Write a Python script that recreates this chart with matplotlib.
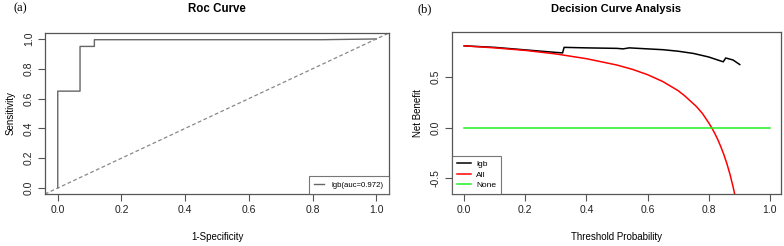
import matplotlib
matplotlib.use("Agg")
import matplotlib.pyplot as plt

plt.rcParams['font.family'] = ['Liberation Sans', 'DejaVu Sans']

# ROC curve of the lgb model (1-specificity, sensitivity)
roc_fpr = [0.0, 0.0, 0.07, 0.07, 0.115, 0.115, 0.83, 1.0]
roc_tpr = [0.0, 0.65, 0.65, 0.95, 0.95, 0.995, 0.995, 1.0]
roc_label = "lgb(auc=0.972)"

# decision curve analysis
thr_all = [0.0, 0.1, 0.2, 0.3, 0.4, 0.5, 0.55, 0.6, 0.65, 0.7, 0.72, 0.74, 0.76,
           0.78, 0.8, 0.81, 0.82, 0.83, 0.84, 0.85, 0.86, 0.87, 0.88, 0.885]
nb_all = [0.81, 0.79, 0.765, 0.73, 0.683, 0.62, 0.578, 0.525, 0.457, 0.367, 0.32,
          0.265, 0.21, 0.14, 0.05, 0.0, -0.055, -0.117, -0.188, -0.267, -0.357,
          -0.461, -0.583, -0.652]
thr_lgb = [0.0, 0.1, 0.2, 0.3, 0.322, 0.327, 0.4, 0.5, 0.52, 0.54, 0.6, 0.65,
           0.7, 0.75, 0.8, 0.848, 0.856, 0.88, 0.902]
nb_lgb = [0.81, 0.795, 0.77, 0.745, 0.74, 0.795, 0.79, 0.785, 0.78, 0.79, 0.78,
          0.772, 0.757, 0.735, 0.7, 0.652, 0.69, 0.67, 0.625]
thr_none = [0.0, 1.0]
nb_none = [0.0, 0.0]
dca_labels = ["lgb", "All", "None"]
dca_colors = ["black", "red", "#22ee22"]

W, H = 784, 246
fig = plt.figure(figsize=(W / 100, H / 100), dpi=100)

def r_style(ax):
    for s in ax.spines.values():
        s.set_color("#555555")
        s.set_linewidth(0.9)
    ax.tick_params(direction="out", length=5, width=0.8, color="#555555",
                   labelsize=7.5, labelcolor="#222222", pad=3)
    for lab in ax.get_yticklabels():
        lab.set_rotation(90)
        lab.set_va("center")

# (a) ROC
ax1 = fig.add_axes([45 / W, 52 / H, 344 / W, 161 / H])
ax1.plot(roc_fpr, roc_tpr, color="#666666", lw=1.0)
ax1.plot([-0.04, 1.04], [-0.04, 1.04], color="#888888", lw=0.9, ls=(0, (3, 2)))
ax1.set_xlim(-0.04, 1.04)
ax1.set_ylim(-0.04, 1.04)
ax1.set_xticks([0, 0.2, 0.4, 0.6, 0.8, 1.0])
ax1.set_yticks([0, 0.2, 0.4, 0.6, 0.8, 1.0])
ax1.set_xticklabels(["0.0", "0.2", "0.4", "0.6", "0.8", "1.0"])
ax1.set_yticklabels(["0.0", "0.2", "0.4", "0.6", "0.8", "1.0"])
r_style(ax1)
ax1.set_xlabel("1-Specificity", fontsize=7, labelpad=12)
ax1.set_ylabel("Sensitivity", fontsize=7, labelpad=6)
leg1 = ax1.legend([roc_label], loc="lower right", fontsize=5.6, frameon=True,
                  fancybox=False, borderaxespad=0, handlelength=1.3,
                  handletextpad=0.9, borderpad=0.7)
leg1.get_frame().set_edgecolor("#555555")
leg1.get_frame().set_linewidth(0.8)
fig.text(217 / W, 1 - 9 / H, "Roc Curve", ha="center", va="center",
         fontsize=8.3, fontweight="bold")
fig.text(13 / W, 1 - 8 / H, "(a)", ha="left", va="center", fontsize=9,
         family="Liberation Serif")

# (b) DCA
ax2 = fig.add_axes([452 / W, 52 / H, 329 / W, 162 / H])
ax2.plot(thr_lgb, nb_lgb, color=dca_colors[0], lw=1.1, label=dca_labels[0])
ax2.plot(thr_all, nb_all, color=dca_colors[1], lw=1.1, label=dca_labels[1])
ax2.plot(thr_none, nb_none, color=dca_colors[2], lw=1.1, label=dca_labels[2])
ax2.set_xlim(-0.04, 1.037)
ax2.set_ylim(-0.656, 0.947)
ax2.set_xticks([0, 0.2, 0.4, 0.6, 0.8, 1.0])
ax2.set_xticklabels(["0.0", "0.2", "0.4", "0.6", "0.8", "1.0"])
ax2.set_yticks([-0.5, 0.0, 0.5])
ax2.set_yticklabels(["-0.5", "0.0", "0.5"])
r_style(ax2)
ax2.set_xlabel("Threshold Probability", fontsize=7, labelpad=12)
ax2.set_ylabel("Net Benefit", fontsize=7, labelpad=6)
leg2 = ax2.legend(loc="lower left", fontsize=6, frameon=True, fancybox=False,
                  borderaxespad=0, handlelength=1.7, labelspacing=0.3,
                  handletextpad=0.6, borderpad=0.6)
leg2.get_frame().set_edgecolor("#555555")
leg2.get_frame().set_linewidth(0.8)
fig.text(616 / W, 1 - 9 / H, "Decision Curve Analysis", ha="center",
         va="center", fontsize=8, fontweight="bold")
fig.text(418 / W, 1 - 9 / H, "(b)", ha="left", va="center", fontsize=9,
         family="Liberation Serif")

fig.savefig("out.png", dpi=100)
